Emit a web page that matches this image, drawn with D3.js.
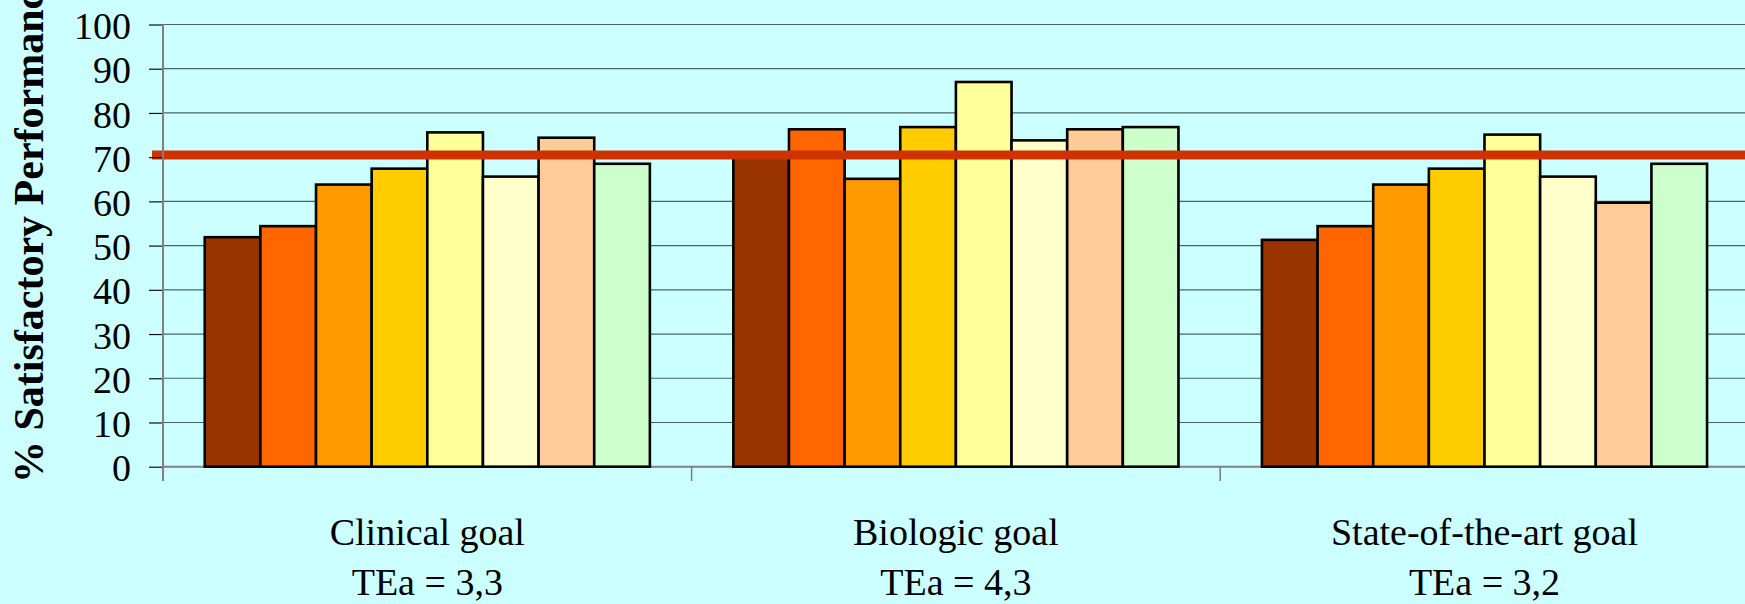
<!DOCTYPE html>
<html>
<head>
<meta charset="utf-8">
<script src="https://cdn.jsdelivr.net/npm/d3@7"></script>
<style>
  html, body { margin: 0; padding: 0; background: #CCFFFF; overflow: hidden; }
  svg { display: block; }
</style>
</head>
<body>
<svg id="chart" width="1745" height="604"></svg>
<script>
// Goal categories along the x axis, with their allowable-error captions
const categories = ["Clinical goal", "Biologic goal", "State-of-the-art goal"];
const teaLabels = ["TEa = 3,3", "TEa = 4,3", "TEa = 3,2"];

// Eight series per goal (percent of satisfactory performance)
const seriesKeys = ["s1", "s2", "s3", "s4", "s5", "s6", "s7", "s8"];
const seriesColors = ["#993300", "#FF6600", "#FF9900", "#FFCC00", "#FFFF99", "#FFFFCC", "#FFCC99", "#CCFFCC"];

const clinicalValues  = [51.9, 54.4, 63.8, 67.4, 75.6, 65.6, 74.4, 68.5];
const biologicValues  = [70.5, 76.3, 65.1, 76.8, 87.0, 73.8, 76.3, 76.8];
const stateArtValues  = [51.3, 54.4, 63.8, 67.4, 75.1, 65.6, 59.7, 68.5];

// Acceptance threshold drawn as a horizontal band across the plot
const targetLevel = 70.5;

const yTicks = [0, 10, 20, 30, 40, 50, 60, 70, 80, 90, 100];
const yTitle = "% Satisfactory Performance";

const valuesByCategory = [clinicalValues, biologicValues, stateArtValues];

const W = 1745, H = 604;
const svg = d3.select("#chart");

svg.append("rect").attr("width", W).attr("height", H).attr("fill", "#CCFFFF");

const plotLeft = 163, plotTop = 24.5, plotBottom = 466.7;
const catWidth = 528.6;

const x = d3.scaleBand()
  .domain(categories)
  .range([plotLeft, plotLeft + catWidth * categories.length])
  .paddingInner(0).paddingOuter(0);

const xInner = d3.scaleBand()
  .domain(seriesKeys)
  .range([0, x.bandwidth()])
  .paddingInner(0)
  .paddingOuter(0.75);

const y = d3.scaleLinear().domain([0, 100]).range([plotBottom, plotTop]);

const fontSerif = "'Liberation Serif', 'Times New Roman', Times, serif";

// Horizontal gridlines
svg.append("g")
  .selectAll("line")
  .data(yTicks.filter(d => d > 0))
  .join("line")
  .attr("x1", plotLeft).attr("x2", W)
  .attr("y1", d => y(d)).attr("y2", d => y(d))
  .attr("stroke", "#4a6464").attr("stroke-width", 1.2);

// Bottom edge of the plot area
svg.append("line")
  .attr("x1", plotLeft).attr("x2", W)
  .attr("y1", y(0)).attr("y2", y(0))
  .attr("stroke", "#808080").attr("stroke-width", 2);

// Bars
const groups = svg.append("g")
  .selectAll("g")
  .data(categories)
  .join("g")
  .attr("transform", d => `translate(${x(d)},0)`);

groups.selectAll("rect")
  .data((c, i) => valuesByCategory[i].map((v, j) => ({ key: seriesKeys[j], value: v, color: seriesColors[j] })))
  .join("rect")
  .attr("x", d => xInner(d.key))
  .attr("width", xInner.bandwidth())
  .attr("y", d => y(d.value))
  .attr("height", d => y(0) - y(d.value))
  .attr("fill", d => d.color)
  .attr("stroke", "#000")
  .attr("stroke-width", 2.6);

// Threshold band
svg.append("line")
  .attr("x1", 152).attr("x2", W)
  .attr("y1", y(targetLevel)).attr("y2", y(targetLevel))
  .attr("stroke", "#CC3300").attr("stroke-width", 9);

// Y axis: ticks and labels
const yAxis = d3.axisLeft(y)
  .tickValues(yTicks)
  .tickSize(14)
  .tickPadding(18)
  .tickFormat(d3.format("d"));

const yAxisG = svg.append("g")
  .attr("transform", `translate(${plotLeft},0)`)
  .call(yAxis);
yAxisG.select(".domain").remove();
yAxisG.selectAll(".tick line").attr("stroke", "#111").attr("stroke-width", 1.2);
yAxisG.selectAll(".tick text")
  .attr("font-family", fontSerif)
  .attr("font-size", 38)
  .attr("fill", "#000")
  .attr("dy", "0.37em");

// Vertical axis line, running a little past the baseline
svg.append("line")
  .attr("x1", plotLeft).attr("x2", plotLeft)
  .attr("y1", y(100)).attr("y2", 481)
  .attr("stroke", "#808080").attr("stroke-width", 2);

// Category boundary ticks below the baseline
svg.append("g")
  .selectAll("line")
  .data(categories.slice(1))
  .join("line")
  .attr("x1", d => x(d)).attr("x2", d => x(d))
  .attr("y1", y(0)).attr("y2", 481)
  .attr("stroke", "#708080").attr("stroke-width", 1.5);

// Category labels (two lines each)
const catLabels = svg.append("g")
  .selectAll("text")
  .data(categories)
  .join("text")
  .attr("text-anchor", "middle")
  .attr("font-family", fontSerif)
  .attr("font-size", 38)
  .attr("fill", "#000");

catLabels.append("tspan")
  .attr("x", d => x(d) + x.bandwidth() / 2)
  .attr("y", 545)
  .text(d => d);
catLabels.append("tspan")
  .attr("x", d => x(d) + x.bandwidth() / 2)
  .attr("y", 595)
  .text((d, i) => teaLabels[i]);

// Y axis title
svg.append("text")
  .attr("transform", "translate(43,483) rotate(-90)")
  .attr("text-anchor", "start")
  .attr("font-family", fontSerif)
  .attr("font-weight", "bold")
  .attr("font-size", 42)
  .attr("fill", "#000")
  .text(yTitle);
</script>
</body>
</html>
